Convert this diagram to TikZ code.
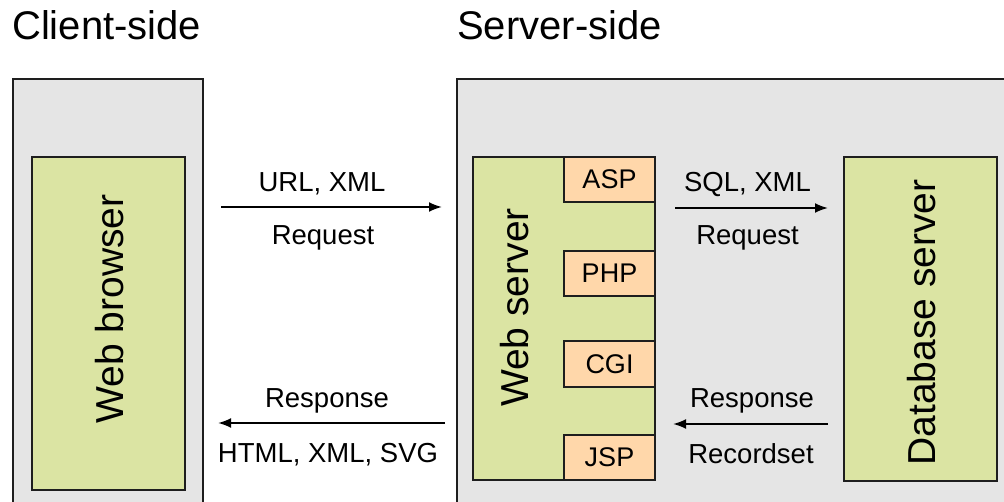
\documentclass[tikz,border=0pt]{standalone}
\usepackage{fontspec}
\setmainfont{Liberation Sans}
\usetikzlibrary{arrows.meta}
\definecolor{boxgray}{RGB}{229,229,229}
\definecolor{boxgreen}{RGB}{219,228,163}
\definecolor{boxorange}{RGB}{255,215,170}
\definecolor{edge}{RGB}{30,30,30}
\begin{document}
\begin{tikzpicture}[x=1pt,y=-1pt,
  boxbase/.style={draw=edge, line width=2pt, anchor=north west, inner sep=0pt, outer sep=0pt},
  frame/.style={boxbase, fill=boxgray},
  comp/.style={boxbase, fill=boxgreen},
  plug/.style={boxbase, fill=boxorange, minimum width=91pt, minimum height=45pt, font=\fontsize{27}{30}\selectfont},
  title/.style={anchor=base west, inner sep=0pt, font=\fontsize{40}{44}\selectfont},
  vlabel/.style={anchor=base, rotate=90, inner sep=0pt, font=\fontsize{39}{42}\selectfont},
  lbl/.style={anchor=base, inner sep=0pt, font=\fontsize{27.5}{30}\selectfont},
  arr/.style={draw=black, line width=2pt, -{Latex[length=13pt,width=10pt]}}
]
\useasboundingbox (0,0) rectangle (1004,502);
\fill[white] (0,0) rectangle (1004,502);
\clip (0,0) rectangle (1004,502);

% titles
\node[title] (tclient) at (12,40) {Client-side};
\node[title] (tserver) at (457,40) {Server-side};

% outer frames
\node[frame, minimum width=190pt, minimum height=470pt] (client) at (13,79) {};
\node[frame, minimum width=580pt, minimum height=470pt] (server) at (457,79) {};

% components
\node[comp, minimum width=153pt, minimum height=333pt] (browser) at (32,157) {};
\node[comp, minimum width=182pt, minimum height=323pt] (web) at (473,157) {};
\node[comp, minimum width=153pt, minimum height=324pt] (db) at (844,157) {};

\node[plug] (asp) at (564,157) {ASP};
\node[plug] (php) at (564,251) {PHP};
\node[plug, minimum height=46pt] (cgi) at (564,341) {CGI};
\node[plug] (jsp) at (564,435) {JSP};

% vertical labels
\node[vlabel] (lbrowser) at (123,309) {Web browser};
\node[vlabel] (lweb) at (528,307.5) {Web server};
\node[vlabel] (ldb) at (935,322.5) {Database server};

% arrow levels
\coordinate (yreqL) at (0,207);
\coordinate (yresL) at (0,423);
\coordinate (yreqR) at (0,208);
\coordinate (yresR) at (0,424);

% connectors
\draw[arr, shorten <=36pt, shorten >=31pt] (browser.east |- yreqL) -- (web.west |- yreqL);
\draw[arr, shorten <=28pt, shorten >=33pt] (web.west |- yresL) -- (browser.east |- yresL);
\draw[arr, shorten <=20pt, shorten >=16pt] (web.east |- yreqR) -- (db.west |- yreqR);
\draw[arr, shorten <=16pt, shorten >=18pt] (db.west |- yresR) -- (web.east |- yresR);

% arrow labels
\node[lbl] (l1) at (322,192) {URL, XML};
\node[lbl] (l2) at (323,245) {Request};
\node[lbl] (l3) at (327,407) {Response};
\node[lbl] (l4) at (328,462) {HTML, XML, SVG};
\node[lbl] (r1) at (747.5,192) {SQL, XML};
\node[lbl] (r2) at (747.5,245) {Request};
\node[lbl] (r3) at (752,407) {Response};
\node[lbl] (r4) at (751,463) {Recordset};
\end{tikzpicture}
\end{document}
